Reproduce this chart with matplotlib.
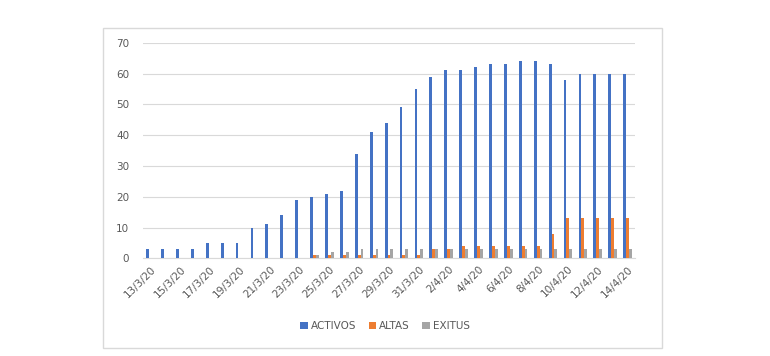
import matplotlib
matplotlib.use("Agg")
import matplotlib.pyplot as plt
from matplotlib.patches import Rectangle
import numpy as np

# ── Data ──────────────────────────────────────────────────────────────────────

DATES = ["13/3/20", "14/3/20", "15/3/20", "16/3/20", "17/3/20", "18/3/20",
         "19/3/20", "20/3/20", "21/3/20", "22/3/20", "23/3/20", "24/3/20",
         "25/3/20", "26/3/20", "27/3/20", "28/3/20", "29/3/20", "30/3/20",
         "31/3/20", "1/4/20", "2/4/20", "3/4/20", "4/4/20", "5/4/20",
         "6/4/20", "7/4/20", "8/4/20", "9/4/20", "10/4/20", "11/4/20",
         "12/4/20", "13/4/20", "14/4/20"]

ACTIVOS = [3, 3, 3, 3, 5, 5, 5, 10, 11, 14, 19, 20, 21, 22, 34, 41, 44, 49,
           55, 59, 61, 61, 62, 63, 63, 64, 64, 63, 58, 60, 60, 60, 60]
ALTAS = [0, 0, 0, 0, 0, 0, 0, 0, 0, 0, 0, 1, 1, 1, 1, 1, 1, 1,
         1, 3, 3, 4, 4, 4, 4, 4, 4, 8, 13, 13, 13, 13, 13]
EXITUS = [0, 0, 0, 0, 0, 0, 0, 0, 0, 0, 0, 1, 2, 2, 3, 3, 3, 3,
          3, 3, 3, 3, 3, 3, 3, 3, 3, 3, 3, 3, 3, 3, 3]

BLUE = "#4472C4"
ORANGE = "#ED7D31"
GREY = "#A5A5A5"
TEXT = "#595959"

# ── Figure ────────────────────────────────────────────────────────────────────

fig = plt.figure(figsize=(7.7, 3.56), dpi=100)
fig.patch.set_facecolor("white")

# outer chart frame
fig.patches.append(Rectangle((103 / 770, 1 - 348 / 356), (662 - 103) / 770,
                             (348 - 28) / 356, transform=fig.transFigure,
                             fill=False, edgecolor="#D9D9D9", linewidth=1.0))

ax = fig.add_axes([143 / 770, 1 - 258.3 / 356, (635 - 143) / 770,
                   (258.3 - 42.7) / 356])

x = np.arange(len(DATES))
w = 0.19
ax.bar(x - w, ACTIVOS, w, color=BLUE, label="ACTIVOS", zorder=3)
ax.bar(x, ALTAS, w, color=ORANGE, label="ALTAS", zorder=3)
ax.bar(x + w, EXITUS, w, color=GREY, label="EXITUS", zorder=3)

ax.set_xlim(-0.5, len(DATES) - 0.5)
ax.set_ylim(0, 70)
ax.set_yticks(range(0, 71, 10))
ax.grid(axis="y", color="#D9D9D9", linewidth=0.8, zorder=0)

ax.set_xticks(x[::2])
ax.set_xticklabels(DATES[::2], rotation=45, ha="right",
                   rotation_mode="anchor", fontsize=7.5, color=TEXT)
ax.tick_params(axis="y", labelsize=7.5, labelcolor=TEXT, length=0, pad=10)
ax.tick_params(axis="x", length=0, pad=4)

for s in ["top", "right", "left"]:
    ax.spines[s].set_visible(False)
ax.spines["bottom"].set_color("#D9D9D9")

fig.legend(loc="center", bbox_to_anchor=(385 / 770, 1 - 326 / 356), ncol=3,
           frameon=False, fontsize=7.5, labelcolor=TEXT, handlelength=0.7,
           handleheight=0.7, handletextpad=0.3, columnspacing=1.2)

fig.savefig("out.png", dpi=100, facecolor="white")
